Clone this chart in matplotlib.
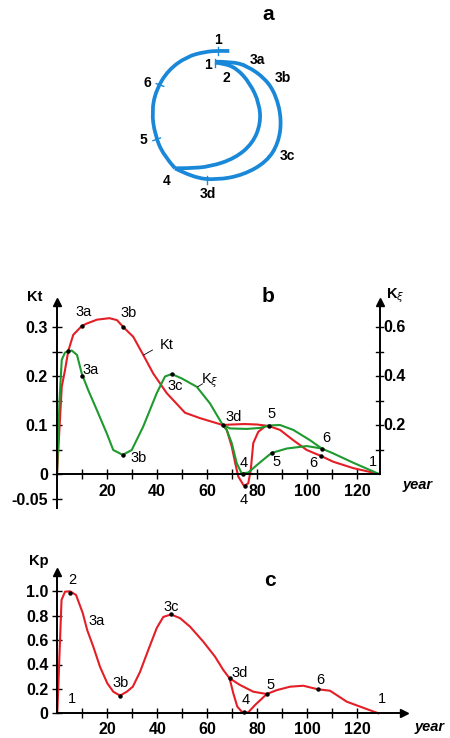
import numpy as np
import matplotlib
matplotlib.use("Agg")
import matplotlib.pyplot as plt
from matplotlib.path import Path
from matplotlib.patches import PathPatch

plt.rcParams['font.family'] = ['Liberation Sans', 'DejaVu Sans']

W, H = 450, 738
fig = plt.figure(figsize=(W / 100, H / 100), dpi=100)

RED = '#e41e26'
GREEN = '#1f9a2e'
BLUE = '#1a88d8'
LAB_FS = 10.5
TICK_FS = 11.5

# ---------------- Panel a (phase loop, pixel-like coordinates) ----------------
a_inner = [(215, 62.7), (223.3, 63.3), (236.7, 68.3), (250, 83.3), (259.3, 103.3), (260.7, 123.3),
           (252.7, 143.3), (235, 158.3), (210, 166.7), (188.3, 168.3), (175, 168.3)]
a_outer = [(215, 61.7), (231.7, 61.7), (246.7, 65.7), (265, 78.3), (276, 95), (281.7, 120),
           (278.3, 143.3), (266.7, 161.7), (243.3, 175), (216.7, 180), (193.3, 177.7), (175, 168.3)]
a_left = [(175, 168.3), (163.3, 155), (155, 135), (151.7, 111.7), (156, 90), (168.3, 70),
          (186.7, 56.7), (205, 51.7), (220, 50.7), (229.3, 51)]
a_labels = ['1', '1', '2', '3a', '3b', '6', '5', '4', '3d', '3c']
a_label_pos = [(218, 40), (208, 65), (226, 78), (257, 60), (283, 78), (147, 83), (143, 140),
               (167, 181), (208, 194), (287, 156)]
a_ticks = [(218.3, 51, 0), (215, 63, 0), (246.7, 65.7, 60), (265.7, 80, 50), (271.7, 153.3, -50),
           (206.7, 180, 0), (176, 168, 40), (156.7, 139.3, 110), (160, 85, 70)]


def smooth_path(pts):
    """Quadratic B-spline style path: control points are the given vertices."""
    pts = [tuple(p) for p in pts]
    verts = [pts[0]]
    codes = [Path.MOVETO]
    for i in range(1, len(pts) - 1):
        nxt = pts[i + 1] if i + 1 == len(pts) - 1 else ((pts[i][0] + pts[i + 1][0]) / 2,
                                                        (pts[i][1] + pts[i + 1][1]) / 2)
        verts += [pts[i], nxt]
        codes += [Path.CURVE3, Path.CURVE3]
    return Path(verts, codes)


ax_a = fig.add_axes([0, 1 - 210 / H, 1, 210 / H])
ax_a.set_xlim(0, W)
ax_a.set_ylim(210, 0)
ax_a.axis('off')
for seg in (a_inner, a_outer, a_left):
    ax_a.add_patch(PathPatch(smooth_path(seg), fill=False, edgecolor=BLUE, lw=2.7,
                             capstyle='butt', joinstyle='round'))
for (x, y, ang) in a_ticks:
    r = np.deg2rad(ang)
    dx, dy = 4 * np.sin(r), 4 * np.cos(r)
    ax_a.plot([x - dx, x + dx], [y - dy, y + dy], color=BLUE, lw=1.0)
for t, (x, y) in zip(a_labels, a_label_pos):
    ax_a.text(x, y, t, fontsize=10, fontweight='bold', ha='center', va='center')
ax_a.text(268, 14, 'a', fontsize=15, fontweight='bold', ha='center', va='center')


def make_ax(xlim, ylim, x0px, sx, y0px, sy):
    left = x0px + xlim[0] * sx
    right = x0px + xlim[1] * sx
    top = y0px - ylim[1] * sy
    bottom = y0px - ylim[0] * sy
    ax = fig.add_axes([left / W, 1 - bottom / H, (right - left) / W, (bottom - top) / H])
    ax.set_xlim(*xlim)
    ax.set_ylim(*ylim)
    ax.patch.set_alpha(0)
    return ax


# ---------------- Panel b ----------------
kt_x = [0, 1.9, 3.2, 4.5, 6.5, 9.9, 11.9, 16, 21, 24, 26.5, 30.5, 34.5, 38.5, 43.9, 51.2, 57.2, 66.3]
kt_y = [0, 0.178, 0.212, 0.251, 0.284, 0.302, 0.307, 0.315, 0.318, 0.314, 0.30, 0.28, 0.243, 0.205,
        0.165, 0.125, 0.114, 0.10]
kt_up_x = [66.3, 70, 75, 80, 84.7]
kt_up_y = [0.10, 0.101, 0.102, 0.101, 0.098]
kt_dip_x = [66.3, 67.9, 69.9, 71.3, 72.5, 74.5, 75, 76.5, 77.5, 78.5, 80.5, 83.2, 84.7]
kt_dip_y = [0.10, 0.09, 0.056, 0.022, -0.005, -0.022, -0.024, -0.019, 0.008, 0.063, 0.086, 0.097, 0.098]
kt_tail_x = [84.7, 89.2, 94.5, 99.9, 105.5, 110.5, 118.5, 128.8]
kt_tail_y = [0.098, 0.09, 0.069, 0.049, 0.037, 0.025, 0.012, 0.0]

kx_x = [0, 1.0, 1.9, 3.2, 5.9, 8, 9.9, 12.5, 15.9, 19.9, 22.5, 26.3, 29.9, 34.5, 39.9, 43.2, 45.9,
        49.9, 55.9, 61.2, 66.3]
kx_y = [0, 0.15, 0.233, 0.248, 0.252, 0.243, 0.205, 0.171, 0.131, 0.083, 0.049, 0.039, 0.049, 0.097,
        0.165, 0.199, 0.204, 0.195, 0.178, 0.144, 0.10]
kx_up_x = [66.3, 69.2, 75.9, 81.2, 84.7, 89.2, 94.5, 101.2, 105.9, 110.5, 118.5, 128.8]
kx_up_y = [0.10, 0.093, 0.092, 0.094, 0.099, 0.10, 0.09, 0.069, 0.052, 0.042, 0.023, 0.0]
kx_dip_x = [66.3, 67.9, 69.9, 71.9, 73.9, 76.5, 79.9, 83.9, 85.9, 91.9, 99.9, 105.9]
kx_dip_y = [0.10, 0.09, 0.063, 0.022, 0.001, 0.003, 0.018, 0.035, 0.043, 0.052, 0.057, 0.052]

b_red_pts = [(9.9, 0.302), (26.5, 0.30), (66.3, 0.10), (84.7, 0.098), (75, -0.024), (105.5, 0.037)]
b_green_pts = [(4.5, 0.251), (9.9, 0.2), (26.3, 0.039), (45.9, 0.204), (74.5, 0.0), (85.9, 0.043),
               (105.9, 0.052)]
b_labels = ['3a', '3b', '3a', '3b', '3c', '3d', '5', '4', '4', '5', '6', '6', '1']
b_label_pos = [(10.5, 0.33), (28.5, 0.328), (13.5, 0.212), (32.5, 0.032), (47.2, 0.18), (70.5, 0.117),
               (85.9, 0.122), (74.5, 0.023), (74.8, -0.053), (88, 0.025), (102.5, 0.023),
               (107.6, 0.073), (126.3, 0.025)]

ax_b = make_ax((0, 131), (-0.07, 0.37), 57, 2.5, 474, 490)
for xs, ys, c in ((kt_x, kt_y, RED), (kt_up_x, kt_up_y, RED), (kt_dip_x, kt_dip_y, RED),
                  (kt_tail_x, kt_tail_y, RED), (kx_x, kx_y, GREEN), (kx_up_x, kx_up_y, GREEN),
                  (kx_dip_x, kx_dip_y, GREEN)):
    ax_b.plot(xs, ys, color=c, lw=1.5, solid_joinstyle='round')
px, py = zip(*(b_red_pts + b_green_pts))
ax_b.plot(px, py, 'o', color='k', ms=2.2, zorder=5)
for t, (x, y) in zip(b_labels, b_label_pos):
    ax_b.text(x, y, t, fontsize=LAB_FS, ha='center', va='center')
ax_b.text(43.8, 0.263, 'Kt', fontsize=LAB_FS, ha='center', va='center')
ax_b.plot([34.7, 38.2], [0.243, 0.253], color='k', lw=0.6)
ax_b.text(61.2, 0.19, r'K$_{\xi}$', fontsize=LAB_FS, ha='center', va='center')
ax_b.plot([56.3, 58.2], [0.178, 0.184], color='k', lw=0.6)

for s in ('top', 'right'):
    ax_b.spines[s].set_visible(False)
ax_b.spines['left'].set_position(('data', 0))
ax_b.spines['bottom'].set_position(('data', 0))
ax_b.spines['left'].set_bounds(-0.07, 0.35)
ax_b.spines['bottom'].set_bounds(0, 129)
for s in ('left', 'bottom'):
    ax_b.spines[s].set_linewidth(1.4)
ax_b.plot(0, 0.352, marker='^', color='k', ms=6, clip_on=False)
ax_b.set_yticks([-0.05, 0, 0.1, 0.2, 0.3])
ax_b.set_yticklabels(['-0.05', '0', '0.1', '0.2', '0.3'], fontweight='bold', fontsize=TICK_FS)
ax_b.set_yticks([0.05, 0.15, 0.25], minor=True)
ax_b.set_xticks([20, 40, 60, 80, 100, 120])
ax_b.set_xticklabels(['20', '40', '60', '80', '100', '120'], fontweight='bold', fontsize=TICK_FS)
ax_b.set_xticks([10, 30, 50, 70, 90, 110], minor=True)
ax_b.tick_params(which='both', direction='inout', length=7, width=1.0, pad=3)
ax_b.tick_params(axis='x', which='both', pad=4)
# right axis (K_xi, scale 2x)
ax_b.plot([129, 129], [0, 0.35], color='k', lw=1.4, clip_on=False)
ax_b.plot(129, 0.352, marker='^', color='k', ms=6, clip_on=False)
right_ticks = [0.1, 0.2, 0.3, 0.4, 0.5, 0.6]
right_labels = ['0.6', '0.4', '0.2']
for v in right_ticks:
    ax_b.plot([127.6, 130.4], [v / 2, v / 2], color='k', lw=1.0, clip_on=False)
for lab in right_labels:
    ax_b.text(130.6, float(lab) / 2, lab, fontsize=TICK_FS, fontweight='bold', ha='left', va='center')
fig.text(35 / W, 1 - 297 / H, 'Kt', fontsize=10.5, fontweight='bold', ha='center', va='center')
fig.text(395 / W, 1 - 296 / H, r'K$_{\xi}$', fontsize=10.5, fontweight='bold', ha='center', va='center')
fig.text(268 / W, 1 - 296 / H, 'b', fontsize=15, fontweight='bold', ha='center', va='center')
fig.text(418 / W, 1 - 485 / H, 'year', fontsize=10.5, fontweight='bold', style='italic',
         ha='center', va='center')

# ---------------- Panel c ----------------
kp_x = [0, 0.8, 1.7, 3.1, 5.1, 7.5, 10.2, 12, 14.4, 17.1, 20, 22.4, 25.1, 27.8, 30.2, 33.1, 36.4,
        39.8, 42.4, 45.5, 49.1, 53.1, 58.4, 63.1, 66.4, 68.9]
kp_y = [0, 0.44, 0.93, 0.997, 1.0, 0.97, 0.82, 0.68, 0.546, 0.38, 0.246, 0.177, 0.145, 0.177, 0.218,
        0.34, 0.52, 0.70, 0.79, 0.81, 0.78, 0.71, 0.587, 0.464, 0.355, 0.287]
kp_up_x = [68.9, 73.1, 78.4, 83.8]
kp_up_y = [0.287, 0.232, 0.177, 0.158]
kp_dip_x = [68.9, 70.4, 72, 74, 76.4, 79.1, 83.8]
kp_dip_y = [0.287, 0.164, 0.055, 0.008, 0.008, 0.068, 0.158]
kp_tail_x = [83.8, 87.8, 93.1, 98.4, 104.2, 109.1, 115.8, 121.1, 128.4]
kp_tail_y = [0.158, 0.19, 0.218, 0.226, 0.197, 0.185, 0.095, 0.055, 0.0]
c_pts = [(5.1, 0.99), (25.1, 0.145), (45.5, 0.81), (68.9, 0.287), (74.8, 0.008), (83.8, 0.158),
         (104.2, 0.197)]
c_labels = ['1', '2', '3a', '3b', '3c', '3d', '4', '5', '6', '1']
c_label_pos = [(5.7, 0.12), (5.9, 1.09), (15.8, 0.76), (25.4, 0.25), (45.4, 0.87), (72.9, 0.33),
               (75.5, 0.11), (85.3, 0.23), (105.4, 0.27), (129.7, 0.12)]

ax_c = make_ax((0, 141), (-0.06, 1.25), 57.3, 2.5, 713.3, 122)
for xs, ys in ((kp_x, kp_y), (kp_up_x, kp_up_y), (kp_dip_x, kp_dip_y), (kp_tail_x, kp_tail_y)):
    ax_c.plot(xs, ys, color=RED, lw=1.5, solid_joinstyle='round')
px, py = zip(*c_pts)
ax_c.plot(px, py, 'o', color='k', ms=2.2, zorder=5)
for t, (x, y) in zip(c_labels, c_label_pos):
    ax_c.text(x, y, t, fontsize=LAB_FS, ha='center', va='center')
for s in ('top', 'right'):
    ax_c.spines[s].set_visible(False)
ax_c.spines['left'].set_position(('data', 0))
ax_c.spines['bottom'].set_position(('data', 0))
ax_c.spines['left'].set_bounds(0, 1.14)
ax_c.spines['bottom'].set_bounds(0, 137)
for s in ('left', 'bottom'):
    ax_c.spines[s].set_linewidth(1.4)
ax_c.plot(0, 1.16, marker='^', color='k', ms=6, clip_on=False)
ax_c.plot(138.5, 0, marker='>', color='k', ms=6, clip_on=False)
ax_c.set_yticks([0, 0.2, 0.4, 0.6, 0.8, 1.0])
ax_c.set_yticklabels(['0', '0.2', '0.4', '0.6', '0.8', '1.0'], fontweight='bold', fontsize=TICK_FS)
ax_c.set_xticks([20, 40, 60, 80, 100, 120])
ax_c.set_xticklabels(['20', '40', '60', '80', '100', '120'], fontweight='bold', fontsize=TICK_FS)
ax_c.set_xticks([10, 30, 50, 70, 90, 110], minor=True)
ax_c.tick_params(which='both', direction='inout', length=7, width=1.0, pad=3)
ax_c.tick_params(axis='x', which='both', pad=3)
fig.text(39 / W, 1 - 561 / H, 'Kp', fontsize=10.5, fontweight='bold', ha='center', va='center')
fig.text(270 / W, 1 - 580 / H, 'c', fontsize=15, fontweight='bold', ha='center', va='center')
fig.text(430 / W, 1 - 727 / H, 'year', fontsize=10.5, fontweight='bold', style='italic',
         ha='center', va='center')

fig.savefig('out.png', dpi=100)
